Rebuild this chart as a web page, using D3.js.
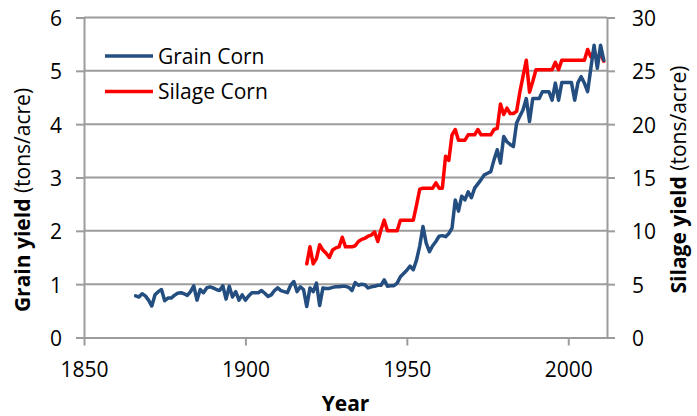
<!DOCTYPE html>
<html>
<head>
<meta charset="utf-8">
<script src="https://cdn.jsdelivr.net/npm/d3@7"></script>
<style>
  html, body { margin: 0; padding: 0; background: #fff; }
  svg { display: block; font-family: "Open Sans", "Liberation Sans", sans-serif; }
</style>
</head>
<body>
<svg id="chart" width="697" height="416"></svg>
<script>
// ---- Data ----
const grainStartYear = 1866;
const grainYield = [
  0.78,0.76,0.82,0.78,
  0.70,0.59,0.80,0.86,0.90,0.69,0.74,0.74,0.79,0.83,
  0.84,0.82,0.79,0.86,0.97,0.70,0.90,0.84,0.93,0.95,
  0.93,0.90,0.88,0.97,0.72,0.96,0.76,0.86,0.70,0.80,
  0.70,0.78,0.84,0.84,0.84,0.88,0.83,0.77,0.80,0.88,
  0.93,0.88,0.86,0.84,0.98,1.05,0.86,0.95,0.90,0.58,
  0.93,0.86,1.02,0.60,0.93,0.92,0.92,0.94,0.95,0.95,
  0.96,0.96,0.94,0.88,1.03,0.98,1.00,0.99,0.93,0.95,
  0.96,0.98,0.98,1.08,0.96,0.97,0.97,1.02,1.14,1.20,
  1.26,1.34,1.27,1.45,1.72,2.08,1.77,1.61,1.72,1.80,
  1.90,1.91,1.89,1.95,2.05,2.58,2.37,2.65,2.58,2.73,
  2.62,2.80,2.88,2.96,3.05,3.08,3.11,3.33,3.52,3.27,
  3.77,3.67,3.62,3.58,4.02,4.15,4.27,4.48,4.05,4.48,
  4.48,4.48,4.61,4.61,4.61,4.45,4.77,4.45,4.78,4.78,
  4.78,4.78,4.45,4.78,4.89,4.77,4.61,5.05,5.48,5.05,
  5.48,5.20
];
const silageStartYear = 1919;
const silageYield = [
  6.9,
  8.5,6.9,7.4,8.7,8.2,7.9,7.5,8.2,8.4,8.5,
  9.4,8.5,8.5,8.5,8.6,9.0,9.2,9.3,9.5,9.6,
  9.9,9.0,10.1,11.0,10.0,10.0,10.0,10.0,11.0,11.0,
  11.0,11.0,11.0,12.4,13.9,14.0,14.0,14.0,14.0,14.5,
  14.0,14.0,17.0,16.6,19.0,19.5,18.5,18.5,18.5,19.0,
  19.0,19.0,19.5,19.0,19.0,19.0,19.0,19.5,19.6,21.9,
  20.9,21.5,21.0,21.0,21.2,23.0,24.5,26.0,23.0,24.0,
  25.1,25.1,25.1,25.1,25.1,25.1,25.8,25.1,26.0,26.0,
  26.0,26.0,26.0,26.0,26.0,26.0,27.0,26.3,26.8,26.2,
  26.6,25.9
];
const xTicks = [1850, 1900, 1950, 2000];
const leftTicks = [0, 1, 2, 3, 4, 5, 6];
const rightTicks = [0, 5, 10, 15, 20, 25, 30];
const seriesNames = ["Grain Corn", "Silage Corn"];
const seriesColors = ["#244e80", "#ff0000"];

// ---- Layout ----
const svg = d3.select("#chart");
const plotLeft = 84, plotRight = 607, plotTop = 17.5, plotBottom = 337.5;
const x = d3.scaleLinear().domain([1850, 2012]).range([plotLeft, plotRight]);
const yL = d3.scaleLinear().domain([0, 6]).range([plotBottom, plotTop]);
const yR = d3.scaleLinear().domain([0, 30]).range([plotBottom, plotTop]);
const gridColor = "#9c9c9c";
const fontSize = 21;

const grain = grainYield.map((v, i) => ({ year: grainStartYear + i, v }));
const silage = silageYield.map((v, i) => ({ year: silageStartYear + i, v }));

// gridlines
svg.append("g").selectAll("line").data(leftTicks.filter(d => d > 0)).join("line")
  .attr("x1", plotLeft).attr("x2", plotRight)
  .attr("y1", d => yL(d)).attr("y2", d => yL(d))
  .attr("stroke", gridColor).attr("stroke-width", 2);

function styleAxis(g) {
  g.selectAll("path.domain").attr("stroke", gridColor).attr("stroke-width", 2);
  g.selectAll(".tick line").attr("stroke", gridColor).attr("stroke-width", 2);
  g.selectAll(".tick text").attr("fill", "#000").style("font-size", fontSize + "px")
    .style("font-family", '"Open Sans", "Liberation Sans", sans-serif');
}

// left axis
const gL = svg.append("g").attr("transform", `translate(${plotLeft},0)`)
  .call(d3.axisLeft(yL).tickValues(leftTicks).tickSize(8).tickSizeOuter(0).tickPadding(14).tickFormat(d3.format("d")));
styleAxis(gL);
gL.selectAll(".tick text").attr("dy", "0.38em");

// right axis
const gR = svg.append("g").attr("transform", `translate(${plotRight},0)`)
  .call(d3.axisRight(yR).tickValues(rightTicks).tickSize(8).tickSizeOuter(0).tickPadding(17).tickFormat(d3.format("d")));
styleAxis(gR);
gR.selectAll(".tick text").attr("dy", "0.38em");

// bottom axis
const gB = svg.append("g").attr("transform", `translate(0,${plotBottom})`)
  .call(d3.axisBottom(x).tickValues(xTicks).tickSize(8).tickSizeOuter(0).tickPadding(17).tickFormat(d3.format("d")));
styleAxis(gB);

// series lines
const lineL = d3.line().x(d => x(d.year)).y(d => yL(d.v));
const lineR = d3.line().x(d => x(d.year)).y(d => yR(d.v));

svg.append("path").datum(silage).attr("d", lineR)
  .attr("fill", "none").attr("stroke", seriesColors[1]).attr("stroke-width", 3.5)
  .attr("stroke-linejoin", "round").attr("stroke-linecap", "round");
svg.append("path").datum(grain).attr("d", lineL)
  .attr("fill", "none").attr("stroke", seriesColors[0]).attr("stroke-width", 3.5)
  .attr("stroke-linejoin", "round").attr("stroke-linecap", "round");

// legend
const legend = svg.append("g");
const legendY = [56, 91.5];
seriesNames.forEach((name, i) => {
  legend.append("line").attr("x1", 105).attr("x2", 153)
    .attr("y1", legendY[i]).attr("y2", legendY[i])
    .attr("stroke", seriesColors[i]).attr("stroke-width", 3.5);
  legend.append("text").attr("x", 158).attr("y", legendY[i]).attr("dy", "0.36em")
    .style("font-size", fontSize + "px").text(name);
});

// axis titles
const tL = svg.append("text").attr("transform", "translate(30,200) rotate(-90)")
  .attr("text-anchor", "middle").style("font-size", fontSize + "px");
tL.append("tspan").attr("font-weight", "bold").text("Grain yield");
tL.append("tspan").text(" (tons/acre)");

const tR = svg.append("text").attr("transform", "translate(686,179.5) rotate(-90)")
  .attr("text-anchor", "middle").style("font-size", fontSize + "px");
tR.append("tspan").attr("font-weight", "bold").text("Silage yield");
tR.append("tspan").text(" (tons/acre)");

svg.append("text").attr("x", (plotLeft + plotRight) / 2).attr("y", 411)
  .attr("text-anchor", "middle").attr("font-weight", "bold")
  .style("font-size", fontSize + "px").text("Year");
</script>
</body>
</html>
